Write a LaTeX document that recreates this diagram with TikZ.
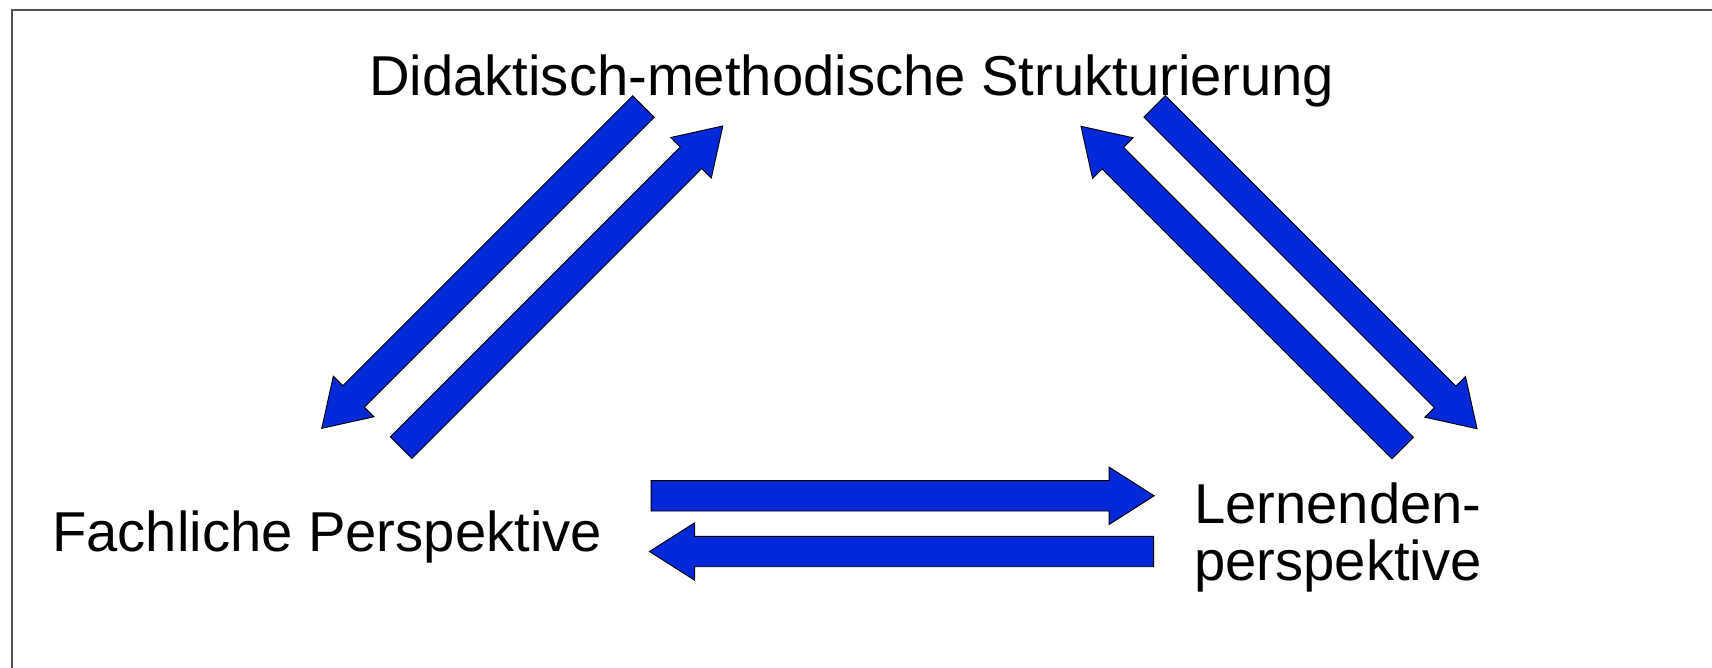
\documentclass[tikz,border=0pt]{standalone}
\usepackage{fontspec}
\setmainfont{Liberation Sans}
\usetikzlibrary{shapes.arrows}
\definecolor{arrowblue}{RGB}{3,41,217}
\definecolor{framegray}{RGB}{80,80,80}
\begin{document}
\begin{tikzpicture}[x=1pt,y=-1pt,
  label/.style={inner sep=0pt, anchor=base west, font=\fontsize{56.2}{57}\selectfont},
  blockarrow/.style={shape=single arrow, draw=black, line width=0.9pt, fill=arrowblue,
    inner xsep=0pt, inner ysep=14.75pt, minimum width=0pt,
    single arrow head extend=13.5pt, single arrow tip angle=65, anchor=tail}]
\useasboundingbox (0,0) rectangle (1712,668);
% frame edges
\draw[framegray, line width=2pt] (11.5,668) -- (11.5,10) -- (1712,10);

% the three perspectives
\node[label] (dms) at (369,96) {Didaktisch-methodische Strukturierung};
\node[label] (fach) at (52,551) {Fachliche Perspektive};
\node[label, align=left] (lern) at (1194,580) {Lernenden-\\perspektive};

% block arrows between the perspectives
\node[blockarrow, minimum height=455pt, rotate=225] (a1) at (643.8,106.3) {};
\node[blockarrow, minimum height=455pt, rotate=45]  (a2) at (400.8,448) {};
\node[blockarrow, minimum height=456pt, rotate=-45] (a3) at (1154.3,106) {};
\node[blockarrow, minimum height=455pt, rotate=135] (a4) at (1403,448.3) {};
\node[blockarrow, minimum height=503pt, rotate=0]   (a5) at (650.7,495.8) {};
\node[blockarrow, minimum height=504pt, rotate=180] (a6) at (1154,551.5) {};
\end{tikzpicture}
\end{document}
